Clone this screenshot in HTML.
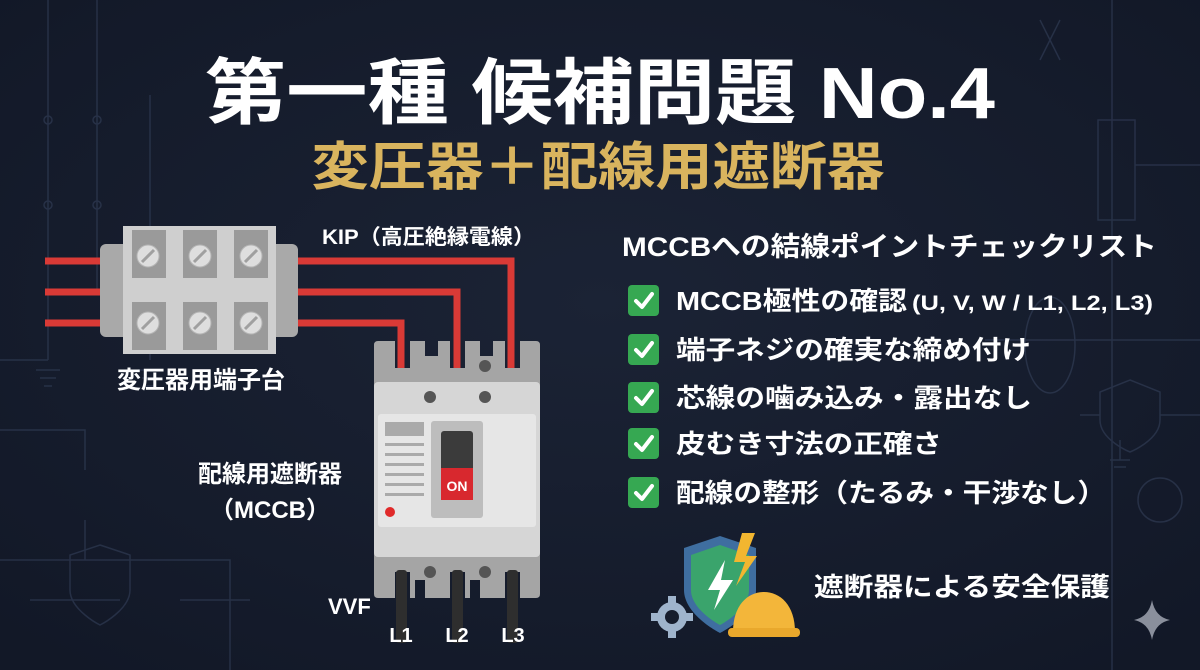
<!DOCTYPE html>
<html><head><meta charset="utf-8"><style>
html,body{margin:0;padding:0;background:#161d2d;}
svg{display:block}
text{font-family:"Liberation Sans","Noto Sans CJK JP",sans-serif;font-weight:bold;}
</style></head><body>
<svg width="1200" height="670" viewBox="0 0 1200 670" xmlns="http://www.w3.org/2000/svg">
<defs>
<radialGradient id="bg" cx="50%" cy="45%" r="70%"><stop offset="0" stop-color="#1b2335"/><stop offset="1" stop-color="#121827"/></radialGradient>
</defs>
<rect width="1200" height="670" fill="url(#bg)"/>
<g stroke="#34405a" stroke-width="1.5" fill="none" opacity="0.6">
<path d="M48 0V360M48 360H0M97 0V290H150V360M150 95V290"/>
<circle cx="48" cy="120" r="4"/><circle cx="97" cy="120" r="4"/><circle cx="48" cy="205" r="4"/><circle cx="97" cy="205" r="4"/>
<path d="M36 370H60M40 378H56M44 386H52M138 370H162M142 378H158M146 386H154"/>
<path d="M1112 0V670M1098 120H1135V220H1098ZM1135 165H1200M985 340H1200M1040 20L1060 60M1060 20L1040 60"/>
<ellipse cx="1050" cy="345" rx="25" ry="48"/>
<path d="M1120 440V460M1110 460H1130M1114 467H1126"/>
<path d="M0 430H85V470M85 520V560M0 560H230V670M30 600H120M180 600H250"/>
<path d="M100 545L130 555V590C130 610 100 625 100 625C100 625 70 610 70 590V555Z"/>
<path d="M1130 380L1160 392V420C1160 440 1130 452 1130 452C1130 452 1100 440 1100 420V392Z"/>
<path d="M1080 415H1100M1160 415H1200"/>
<circle cx="1160" cy="500" r="22"/>
</g>
<text x="600" y="118" text-anchor="middle" font-size="72" fill="#ffffff" textLength="790" lengthAdjust="spacingAndGlyphs">第一種 候補問題 No.4</text>
<text x="598" y="185" text-anchor="middle" font-size="52" fill="#d9b45e" textLength="573" lengthAdjust="spacingAndGlyphs">変圧器＋配線用遮断器</text>

<g stroke="#d93a36" stroke-width="7" fill="none">
<path d="M45 261H110M45 292H110M45 323H110"/>
<path d="M290 261H511V370M290 292H457V370M290 323H401V370"/>
</g>
<rect x="100" y="244" width="198" height="93" rx="6" fill="#a9a9a9"/>
<rect x="123" y="226" width="153" height="128" fill="#cfcfcf"/>
<g fill="#9a9a9a">
<rect x="132" y="230" width="34" height="48"/><rect x="183" y="230" width="34" height="48"/><rect x="234" y="230" width="34" height="48"/>
<rect x="132" y="302" width="34" height="48"/><rect x="183" y="302" width="34" height="48"/><rect x="234" y="302" width="34" height="48"/>
</g>
<g fill="#dedede" stroke="#b5b5b5" stroke-width="1">
<circle cx="148" cy="256" r="11"/><circle cx="200" cy="256" r="11"/><circle cx="251" cy="256" r="11"/>
<circle cx="148" cy="323" r="11"/><circle cx="200" cy="323" r="11"/><circle cx="251" cy="323" r="11"/>
</g>
<g stroke="#a0a0a0" stroke-width="3">
<path d="M142 262L154 250M194 262L206 250M245 262L257 250M142 329L154 317M194 329L206 317M245 329L257 317"/>
</g>
<text x="201" y="388" text-anchor="middle" font-size="24" fill="#fff">変圧器用端子台</text>
<text x="322" y="244" font-size="21" fill="#fff" textLength="213" lengthAdjust="spacingAndGlyphs">KIP（高圧絶縁電線）</text>

<path d="M374 345Q374 341 378 341H395V368H410V341H425V356H438V341H450V368H465V341H480V356H493V341H505V368H520V341H536Q540 341 540 345V594Q540 598 536 598H520V572H505V598H480V580H470V598H465V572H450V598H425V580H415V598H410V572H395V598H378Q374 598 374 594Z" fill="#a5a5a5"/>
<rect x="374" y="382" width="166" height="175" rx="4" fill="#d6d6d6"/>
<rect x="378" y="414" width="158" height="113" rx="3" fill="#e6e6e6"/>
<rect x="431" y="421" width="52" height="97" rx="3" fill="#bdbdbd"/>
<rect x="441" y="431" width="32" height="69" rx="3" fill="#3b3b3b"/>
<rect x="441" y="468" width="32" height="32" fill="#d8282e"/>
<text x="457" y="491" text-anchor="middle" font-size="14" fill="#fff">ON</text>
<rect x="385" y="422" width="39" height="14" fill="#aaa"/>
<g fill="#aaa"><rect x="385" y="443" width="39" height="3"/><rect x="385" y="453" width="39" height="3"/><rect x="385" y="463" width="39" height="3"/><rect x="385" y="473" width="39" height="3"/><rect x="385" y="483" width="39" height="3"/><rect x="385" y="493" width="39" height="3"/></g>
<circle cx="390" cy="512" r="5" fill="#e02a2a"/>
<g fill="#555"><circle cx="430" cy="397" r="6"/><circle cx="485" cy="397" r="6"/><circle cx="485" cy="366" r="6"/><circle cx="430" cy="572" r="6"/><circle cx="485" cy="572" r="6"/></g>
<g fill="#2e2e2e">
<rect x="396" y="570" width="11" height="73" rx="3"/><rect x="452" y="570" width="11" height="73" rx="3"/><rect x="507" y="570" width="11" height="73" rx="3"/>
</g>
<text x="270" y="482" text-anchor="middle" font-size="24" fill="#fff">配線用遮断器</text>
<text x="270" y="518" text-anchor="middle" font-size="24" fill="#fff">（MCCB）</text>
<text x="328" y="614" font-size="22" fill="#fff">VVF</text>
<text x="401" y="642" text-anchor="middle" font-size="20" fill="#fff">L1</text>
<text x="457" y="642" text-anchor="middle" font-size="20" fill="#fff">L2</text>
<text x="513" y="642" text-anchor="middle" font-size="20" fill="#fff">L3</text>

<text x="622" y="256" font-size="27" fill="#fff" textLength="535" lengthAdjust="spacingAndGlyphs">MCCBへの結線ポイントチェックリスト</text>
<g>
<rect x="628" y="285" width="31" height="31" rx="4" fill="#36a852"/>
<rect x="628" y="334" width="31" height="31" rx="4" fill="#36a852"/>
<rect x="628" y="382" width="31" height="31" rx="4" fill="#36a852"/>
<rect x="628" y="428" width="31" height="31" rx="4" fill="#36a852"/>
<rect x="628" y="477" width="31" height="31" rx="4" fill="#36a852"/>
<g stroke="#fff" stroke-width="4" fill="none" stroke-linecap="round" stroke-linejoin="round">
<path d="M636 301L642 307L652 294M636 350L642 356L652 343M636 398L642 404L652 391M636 444L642 450L652 437M636 493L642 499L652 486"/>
</g>
</g>
<text x="676" y="310" font-size="26" fill="#fff" textLength="231" lengthAdjust="spacingAndGlyphs">MCCB極性の確認</text>
<text x="912" y="310" font-size="21" fill="#fff" textLength="241" lengthAdjust="spacingAndGlyphs">(U, V, W / L1, L2, L3)</text>
<text x="676" y="359" font-size="26" fill="#fff" textLength="355" lengthAdjust="spacingAndGlyphs">端子ネジの確実な締め付け</text>
<text x="676" y="407" font-size="26" fill="#fff" textLength="356" lengthAdjust="spacingAndGlyphs">芯線の噛み込み・露出なし</text>
<text x="676" y="453" font-size="26" fill="#fff" textLength="266" lengthAdjust="spacingAndGlyphs">皮むき寸法の正確さ</text>
<text x="676" y="502" font-size="26" fill="#fff" textLength="430" lengthAdjust="spacingAndGlyphs">配線の整形（たるみ・干渉なし）</text>

<path d="M720 536L756 548V590C756 615 720 633 720 633C720 633 684 615 684 590V548Z" fill="#3f6ea0"/>
<path d="M720 545L749 555V590C749 610 720 625 720 625C720 625 691 610 691 590V555Z" fill="#3aa46c"/>
<path d="M725 560L708 590H720L714 610L733 580H721Z" fill="#fff"/>
<path d="M742 533L734 562H745L736 586L757 556H746L755 533Z" fill="#f2b630"/>
<g fill="#9fb4cc"><rect x="668" y="596" width="8" height="42"/><rect x="651" y="613" width="42" height="8"/></g>
<circle cx="672" cy="617" r="15" fill="#9fb4cc"/>
<circle cx="672" cy="617" r="7" fill="#161d2d"/>
<path d="M733 632C733 605 748 592 764 592C780 592 795 605 795 632Z" fill="#f3b63a"/>
<rect x="728" y="628" width="72" height="9" rx="4" fill="#e9a82c"/>
<text x="814" y="596" font-size="26" fill="#fff" textLength="296" lengthAdjust="spacingAndGlyphs">遮断器による安全保護</text>
<path d="M1152 600Q1155 617 1170 620Q1155 623 1152 640Q1149 623 1134 620Q1149 617 1152 600Z" fill="#8a8f9c"/>
</svg>
</body></html>
